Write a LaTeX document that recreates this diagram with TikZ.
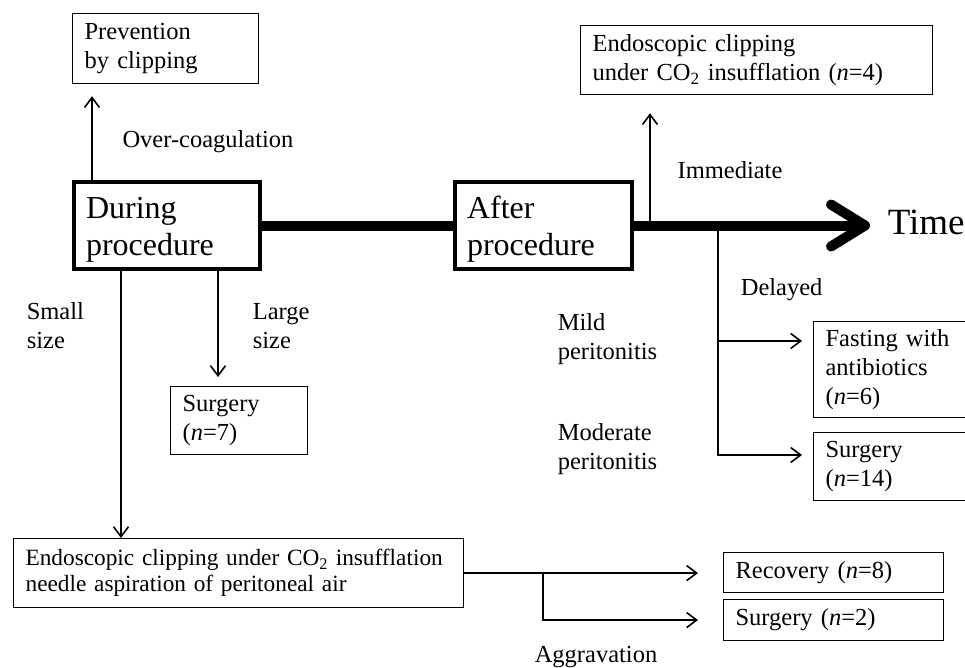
\documentclass[tikz,border=0pt]{standalone}
\usepackage{fontspec}
\setmainfont{Liberation Serif}
\usetikzlibrary{arrows.meta}

\begin{document}
\begin{tikzpicture}[x=1pt,y=-1pt,>={Straight Barb[length=10pt,width=15pt]},line width=1.6pt,
                        every node/.style={font=\fontsize{24.5}{29}\selectfont},
                        box/.style={draw,line width=1.2pt,anchor=north west,inner xsep=12pt,inner ysep=2pt,align=left},
                        stage/.style={box,line width=4pt,font=\fontsize{32}{37}\selectfont,text height=30pt},
                        lbl/.style={align=left,inner sep=0pt}]
                        \useasboundingbox (0,0) rectangle (965,667);
                        \clip (0,0) rectangle (965,667);
                        % boxes
                        \node[box,text width=162pt,minimum height=70pt] (prev) at (72,13) {Prevention\\by clipping};
                        \node[stage,text width=162pt,minimum height=87pt] (during) at (72,180) {During\\procedure};
                        \node[stage,text width=153pt,minimum height=87pt] (after) at (453,180) {After\\procedure};
                        \node[box,text width=328pt,minimum height=69pt] (immbox) at (580,25)
                            {Endoscopic clipping\\under CO\textsubscript{2} insufflation (\textit{n}=4)};
                        \node[box,text width=113pt,minimum height=68pt] (surgA) at (170,386) {Surgery\\(\textit{n}=7)};
                        \node[box,text width=160pt,minimum height=96pt] (fast) at (813,321) {Fasting with\\antibiotics\\(\textit{n}=6)};
                        \node[box,text width=160pt,minimum height=68pt] (surgB) at (813,432) {Surgery\\(\textit{n}=14)};
                        \node[box,text width=426pt,minimum height=69pt,font=\fontsize{23.3}{26}\selectfont] (clipbox) at (13,538)
                            {Endoscopic clipping under CO\textsubscript{2} insufflation\\needle aspiration of peritoneal air};
                        \node[box,text width=196pt,minimum height=40pt] (recov) at (723,552) {Recovery (\textit{n}=8)};
                        \node[box,text width=196pt,minimum height=41pt] (surgC) at (723,599) {Surgery (\textit{n}=2)};
                        % labels
                        \node[lbl] (over) at (208,142) {Over-coagulation};
                        \node[lbl] (imm) at (730,170) {Immediate};
                        \node[lbl,anchor=west,font=\fontsize{37}{44}\selectfont] (time) at (887,222) {Time};
                        \node[lbl,anchor=west] (delayed) at (740,290) {Delayed};
                        \node[lbl,anchor=west] (mild) at (557,339) {Mild\\peritonitis};
                        \node[lbl,anchor=west] (moder) at (557,449) {Moderate\\peritonitis};
                        \node[lbl,anchor=west] (small) at (26,326) {Small\\size};
                        \node[lbl,anchor=west] (large) at (252,326) {Large\\size};
                        \node[lbl] (aggr) at (596,657) {Aggravation};
                        % time line
                        \draw[line width=10pt] (during.east) -- (after.west);
                        \draw[line width=10pt,-{Straight Barb[length=34pt,width=42pt,round]},shorten >=17pt]
                            (after.east) -- (after.east -| time.west);
                        \coordinate (immfoot) at ([xshift=16pt]after.east);
                        \coordinate (delfoot) at ([xshift=84pt]after.east);
                        \coordinate (delA) at ([yshift=-115.5pt]delfoot);
                        \coordinate (delB) at ([yshift=-229.5pt]delfoot);
                        \draw[->,shorten >=18pt] (immfoot) -- (immfoot |- immbox.south);
                        \draw[->,shorten >=11pt] (delfoot) -- (delB) -- (delB -| surgB.west);
                        \draw[->,shorten >=11pt] (delA) -- (delA -| fast.west);
                        % during procedure
                        \coordinate (overfoot) at ([xshift=20pt]during.north west);
                        \coordinate (smalltop) at ([xshift=49pt]during.south west);
                        \coordinate (largetop) at ([xshift=146pt]during.south west);
                        \draw[->,shorten >=12pt] (overfoot) -- (overfoot |- prev.south);
                        \draw[->,shorten >=9pt] (largetop) -- (largetop |- surgA.north);
                        \draw[->] (smalltop) -- (smalltop |- clipbox.north);
                        % outcome of clipping
                        \coordinate (aggA) at ([xshift=79pt]clipbox.east);
                        \draw[->,shorten >=25pt] (clipbox.east) -- (clipbox.east -| recov.west);
                        \draw[->,shorten >=25pt] (aggA) |- (surgC.west);
                    \end{tikzpicture}
\end{document}
